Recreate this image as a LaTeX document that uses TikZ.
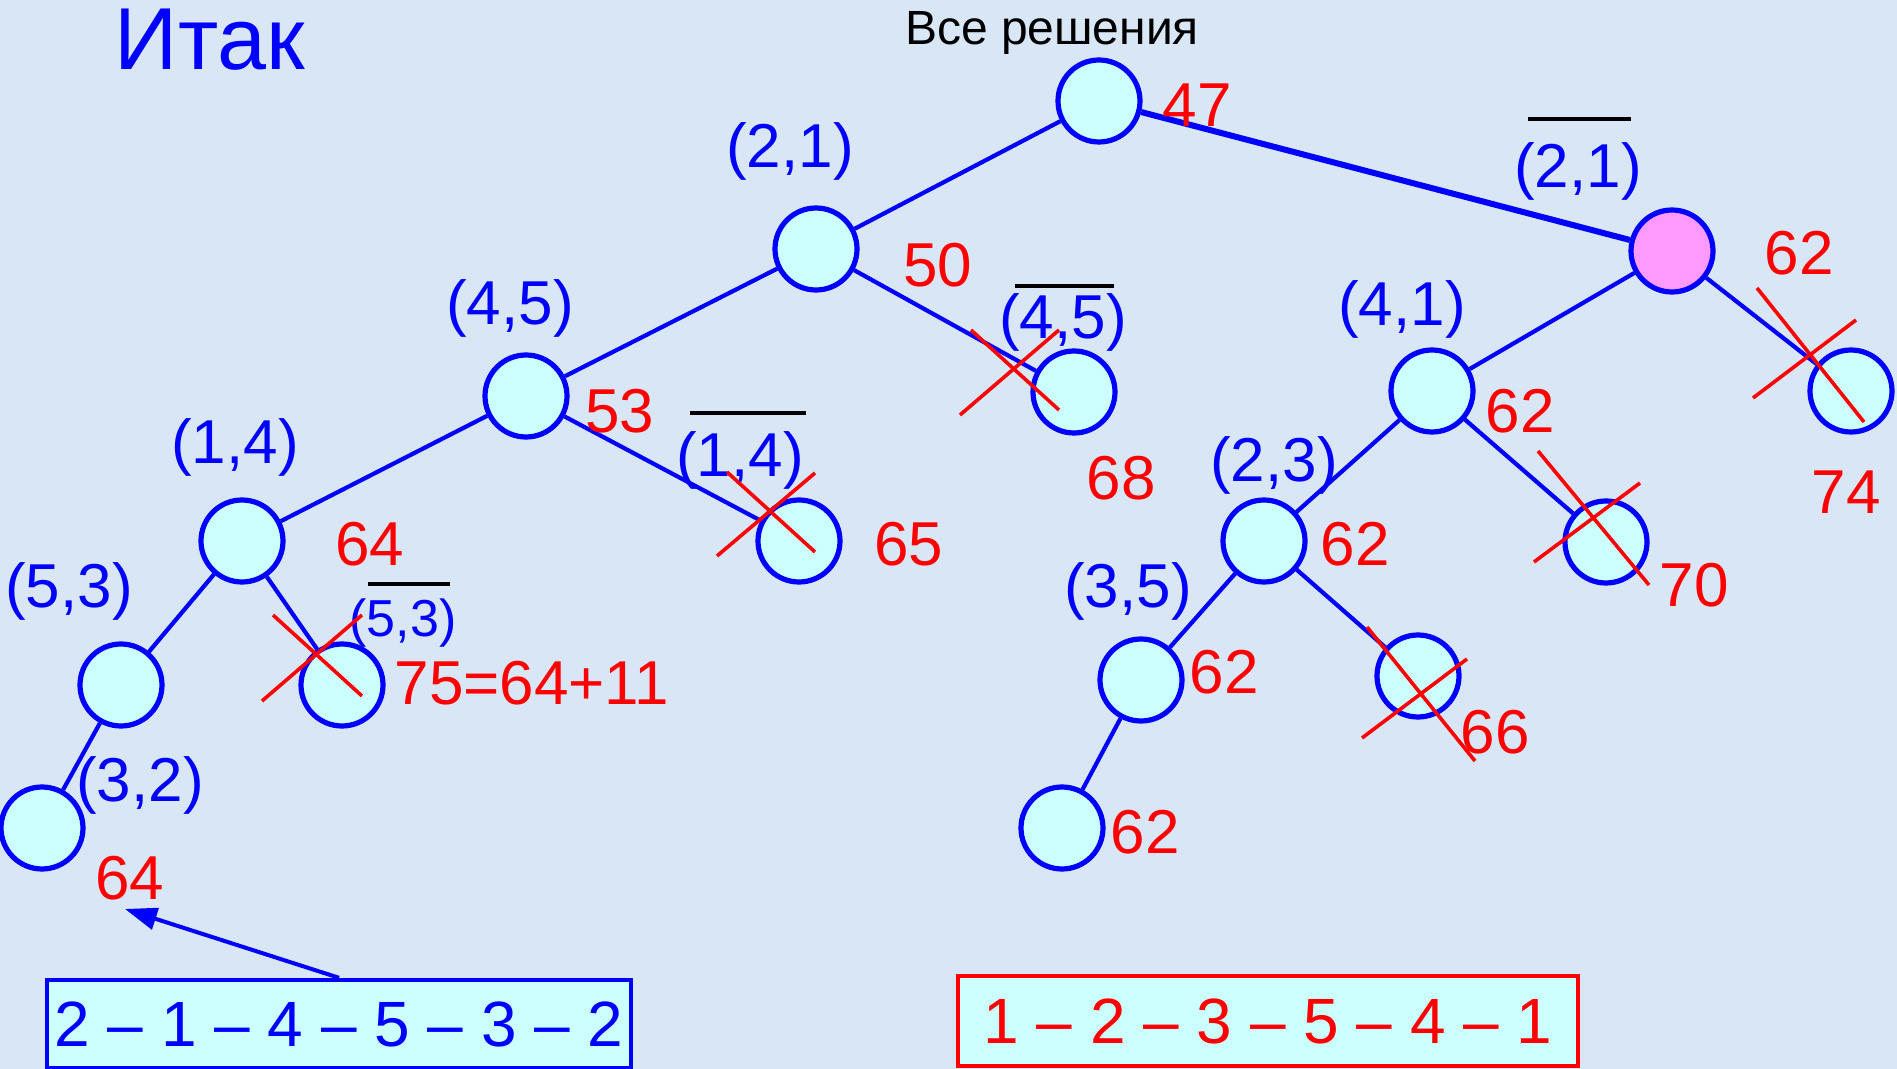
\documentclass[tikz,border=0pt]{standalone}
\usepackage{fontspec}
\setmainfont{Liberation Sans}
\usepackage{tikz}
\usetikzlibrary{calc,arrows.meta}
\definecolor{bg-blue}{HTML}{D9E6F5}
\definecolor{node-cyan}{HTML}{CCFFFF}
\definecolor{node-pink}{HTML}{FF99FF}

\begin{document}
\begin{tikzpicture}[x=0.5pt, y=-0.5pt,
    vertex/.style={circle, draw=blue, line width=2.6pt, fill=node-cyan, minimum size=41pt, inner sep=0pt},
    pair/.style={text=blue, inner sep=0pt, font=\fontsize{31}{37}\selectfont},
    smallpair/.style={pair, font=\fontsize{26}{31}\selectfont},
    cost/.style={text=red, inner sep=0pt, font=\fontsize{31}{37}\selectfont},
    edge/.style={draw=blue, line width=2.1pt},
    strike/.style={draw=red, line width=1.8pt},
    bar/.style={draw=black, line width=2pt},
    pathbox/.style={line width=2.2pt, fill=node-cyan, inner sep=0pt, font=\fontsize{32}{38}\selectfont}]
    \fill[bg-blue] (0,0) rectangle (1897,1069);
    \useasboundingbox (0,0) rectangle (1897,1069);

    \node[text=blue, font=\fontsize{44}{50}\selectfont] (title) at (210,40) {Итак};
    \node[anchor=base, font=\fontsize{24}{29}\selectfont] (all) at (1052,45) {Все решения};

    \node[vertex] (root) at (1099,101) {};
    \node[vertex] (n21) at (816,249) {};
    \node[vertex, fill=node-pink] (n21b) at (1672,251) {};
    \node[vertex] (n45) at (526,396) {};
    \node[vertex] (n45b) at (1074,392) {};
    \node[vertex] (n14) at (242,541) {};
    \node[vertex] (n14b) at (799,541) {};
    \node[vertex] (n53) at (121,685) {};
    \node[vertex] (n53b) at (342,685) {};
    \node[vertex] (n32) at (42,828) {};
    \node[vertex] (n41) at (1432,391) {};
    \node[vertex] (n41b) at (1851,391) {};
    \node[vertex] (n23) at (1264,541) {};
    \node[vertex] (n23b) at (1606,542) {};
    \node[vertex] (n35) at (1141,680) {};
    \node[vertex] (n35b) at (1418,676) {};
    \node[vertex] (n3x) at (1062,828) {};

    \draw[edge] (root) -- (n21);
    \draw[edge, line width=3pt] (root) -- (n21b);
    \draw[edge] (n21) -- (n45);
    \draw[edge] (n21) -- (n45b);
    \draw[edge] (n45) -- (n14);
    \draw[edge] (n45) -- (n14b);
    \draw[edge] (n14) -- (n53);
    \draw[edge] (n14) -- (n53b);
    \draw[edge] (n53) -- (n32);
    \draw[edge] (n21b) -- (n41);
    \draw[edge] (n21b) -- (n41b);
    \draw[edge] (n41) -- (n23);
    \draw[edge] (n41) -- (n23b);
    \draw[edge] (n23) -- (n35);
    \draw[edge] (n23) -- (n35b);
    \draw[edge] (n35) -- (n3x);

    \node[pair] (l21) at (790,151) {(2,1)};
    \node[pair] (l21b) at (1578,171) {(2,1)};
    \node[pair] (l45) at (510,308) {(4,5)};
    \node[pair] (l45b) at (1063,322) {(4,5)};
    \node[pair] (l14) at (235,447) {(1,4)};
    \node[pair] (l14b) at (740,460) {(1,4)};
    \node[pair] (l53) at (69,591) {(5,3)};
    \node[smallpair] (l53b) at (403,623) {(5,3)};
    \node[pair] (l32) at (140,785) {(3,2)};
    \node[pair] (l41) at (1402,309) {(4,1)};
    \node[pair] (l23) at (1274,465) {(2,3)};
    \node[pair] (l35) at (1128,591) {(3,5)};

    \draw[bar] ($(l21b)+(-50,-52)$) -- ($(l21b)+(53,-52)$);
    \draw[bar] ($(l45b)+(-48,-36)$) -- ($(l45b)+(51,-36)$);
    \draw[bar] ($(l14b)+(-50,-47)$) -- ($(l14b)+(66,-47)$);
    \draw[bar] ($(l53b)+(-35,-39)$) -- ($(l53b)+(47,-39)$);

    \node[cost] (c47) at (1197,105) {47};
    \node[cost] (c50) at (938,265) {50};
    \node[cost] (c53) at (620,411) {53};
    \node[cost] (c64) at (370,544) {64};
    \node[cost] (c65) at (909,544) {65};
    \node[cost] (c68) at (1121,478) {68};
    \node[cost] (c75) at (532,683) {75=64+11};
    \node[cost] (c64b) at (130,878) {64};
    \node[cost] (c62a) at (1799,253) {62};
    \node[cost] (c62b) at (1520,411) {62};
    \node[cost] (c74) at (1846,492) {74};
    \node[cost] (c62c) at (1355,544) {62};
    \node[cost] (c70) at (1694,585) {70};
    \node[cost] (c62d) at (1224,672) {62};
    \node[cost] (c66) at (1495,732) {66};
    \node[cost] (c62e) at (1145,832) {62};

    \draw[strike] ($(n45b)+(-103,-62)$) -- ($(n45b)+(-15,18)$) ($(n45b)+(-114,23)$) -- ($(n45b)+(-15,-62)$);
    \draw[strike] ($(n14b)+(-72,-69)$) -- ($(n14b)+(16,11)$) ($(n14b)+(-82,15)$) -- ($(n14b)+(16,-68)$);
    \draw[strike] ($(n53b)+(-69,-70)$) -- ($(n53b)+(20,11)$) ($(n53b)+(-80,16)$) -- ($(n53b)+(20,-70)$);
    \draw[strike] ($(n41b)+(-94,-103)$) -- ($(n41b)+(13,31)$) ($(n41b)+(-98,7)$) -- ($(n41b)+(5,-71)$);
    \draw[strike] ($(n23b)+(-68,-91)$) -- ($(n23b)+(43,43)$) ($(n23b)+(-72,20)$) -- ($(n23b)+(34,-59)$);
    \draw[strike] ($(n35b)+(-51,-49)$) -- ($(n35b)+(57,85)$) ($(n35b)+(-56,62)$) -- ($(n35b)+(49,-17)$);

    \node[pathbox, draw=blue, text=blue, minimum width=292pt, minimum height=44pt] (tourA) at (339,1024) {2 – 1 – 4 – 5 – 3 – 2};
    \node[pathbox, draw=red, text=red, minimum width=310pt, minimum height=45pt] (tourB) at (1268,1021) {1 – 2 – 3 – 5 – 4 – 1};

    \coordinate (tip) at (125,909);
    \draw[blue, line width=2pt, -{Triangle[length=16pt, width=11pt]}] (tourA.north) -- (tip);
\end{tikzpicture}
\end{document}
